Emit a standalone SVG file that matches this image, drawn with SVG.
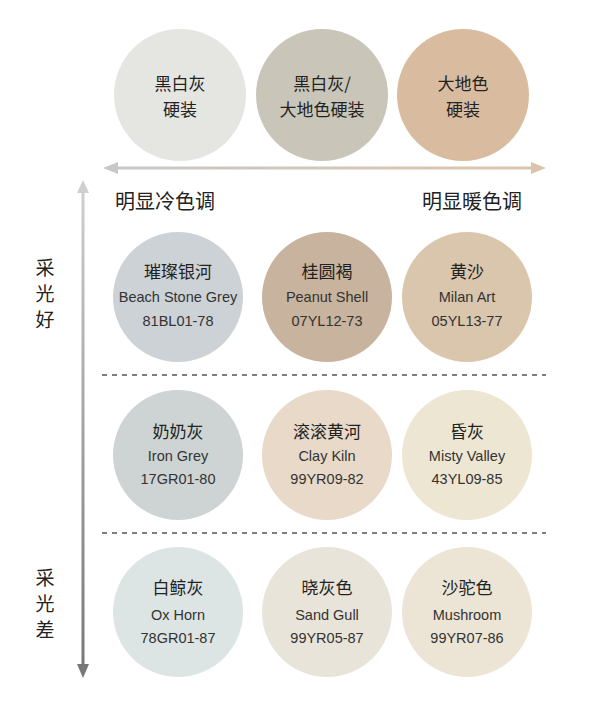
<svg xmlns="http://www.w3.org/2000/svg" width="600" height="708" viewBox="0 0 600 708">
<defs>
<linearGradient id="gh" x1="0" x2="1"><stop offset="0" stop-color="#c8c8c8"/><stop offset="1" stop-color="#dcc4ac"/></linearGradient>
<linearGradient id="gv" x1="0" y1="0" x2="0" y2="1"><stop offset="0" stop-color="#cfcfcf"/><stop offset="1" stop-color="#777"/></linearGradient>
</defs>
<style>
text{font-family:"Noto Sans CJK SC","Liberation Sans",sans-serif;fill:#222;text-anchor:middle}
.cn{font-size:17px}.en{font-size:14.5px;font-family:"Liberation Sans","Noto Sans CJK SC",sans-serif;fill:#333}
.big{font-size:20px}.side{font-size:19px}
.dash{stroke:#555;stroke-width:1.5;stroke-dasharray:5 5}
</style>
<rect width="600" height="708" fill="#fff"/>
<g id="connectors">
<rect x="112" y="166.5" width="424" height="3" fill="url(#gh)"/>
<polygon points="103,168 118,162 118,174" fill="#c8c8c8"/>
<polygon points="546,168 531,162 531,174" fill="#dcc4ac"/>
<rect x="81.5" y="188" width="3" height="480" fill="url(#gv)"/>
<polygon points="83,180 77,193 89,193" fill="#cfcfcf"/>
<polygon points="83,678 77,664 89,664" fill="#777"/>
<line class="dash" x1="102" y1="375" x2="546" y2="375"/>
<line class="dash" x1="102" y1="533" x2="546" y2="533"/>
</g>
<g id="labels">
<text class="big" x="165" y="209">明显冷色调</text>
<text class="big" x="472" y="209">明显暖色调</text>
<text class="side" x="45" y="275">采</text><text class="side" x="45" y="301">光</text><text class="side" x="45" y="327">好</text>
<text class="side" x="45" y="585">采</text><text class="side" x="45" y="611">光</text><text class="side" x="45" y="637">差</text>
</g>
<g id="n1"><circle cx="180" cy="95" r="66" fill="#e5e6e2"/><text class="cn" x="180" y="90">黑白灰</text><text class="cn" x="180" y="116">硬装</text></g>
<g id="n2"><circle cx="322" cy="95" r="66" fill="#c9c6b9"/><text class="cn" x="322" y="90">黑白灰/</text><text class="cn" x="322" y="116">大地色硬装</text></g>
<g id="n3"><circle cx="463" cy="95" r="66" fill="#d9bca0"/><text class="cn" x="463" y="90">大地色</text><text class="cn" x="463" y="116">硬装</text></g>
<g id="n4"><circle cx="178" cy="297" r="65" fill="#cdd2d6"/><text class="cn" x="178" y="278">璀璨银河</text><text class="en" x="178" y="302">Beach Stone Grey</text><text class="en" x="178" y="326">81BL01-78</text></g>
<g id="n5"><circle cx="327" cy="297" r="65" fill="#c8b39e"/><text class="cn" x="327" y="278">桂圆褐</text><text class="en" x="327" y="302">Peanut Shell</text><text class="en" x="327" y="326">07YL12-73</text></g>
<g id="n6"><circle cx="467" cy="297" r="65" fill="#dac6ad"/><text class="cn" x="467" y="278">黄沙</text><text class="en" x="467" y="302">Milan Art</text><text class="en" x="467" y="326">05YL13-77</text></g>
<g id="n7"><circle cx="178" cy="455" r="65" fill="#cdd4d3"/><text class="cn" x="178" y="438">奶奶灰</text><text class="en" x="178" y="461">Iron Grey</text><text class="en" x="178" y="484">17GR01-80</text></g>
<g id="n8"><circle cx="327" cy="455" r="65" fill="#e8d9c8"/><text class="cn" x="327" y="438">滚滚黄河</text><text class="en" x="327" y="461">Clay Kiln</text><text class="en" x="327" y="484">99YR09-82</text></g>
<g id="n9"><circle cx="467" cy="455" r="65" fill="#ede6d3"/><text class="cn" x="467" y="438">昏灰</text><text class="en" x="467" y="461">Misty Valley</text><text class="en" x="467" y="484">43YL09-85</text></g>
<g id="n10"><circle cx="178" cy="612" r="65" fill="#dde4e4"/><text class="cn" x="178" y="594">白鲸灰</text><text class="en" x="178" y="620">Ox Horn</text><text class="en" x="178" y="643">78GR01-87</text></g>
<g id="n11"><circle cx="327" cy="612" r="65" fill="#e9e4d9"/><text class="cn" x="327" y="594">晓灰色</text><text class="en" x="327" y="620">Sand Gull</text><text class="en" x="327" y="643">99YR05-87</text></g>
<g id="n12"><circle cx="467" cy="612" r="65" fill="#ece5d5"/><text class="cn" x="467" y="594">沙驼色</text><text class="en" x="467" y="620">Mushroom</text><text class="en" x="467" y="643">99YR07-86</text></g>
</svg>
